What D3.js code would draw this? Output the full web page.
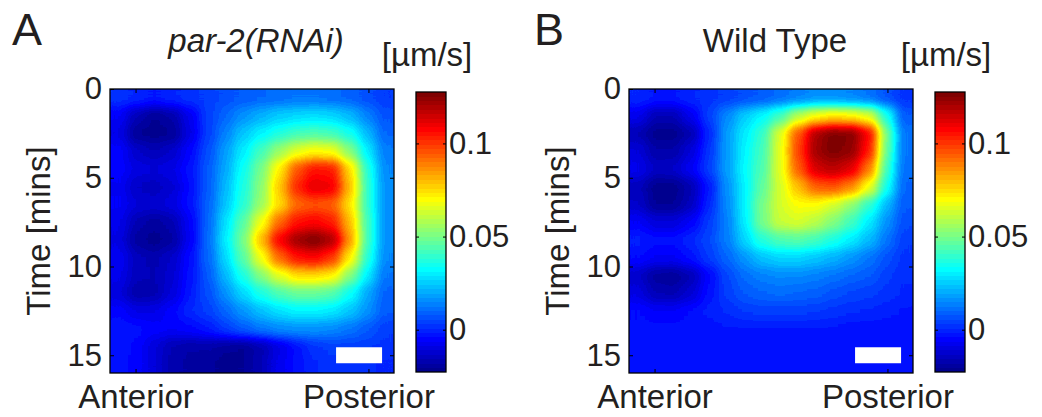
<!DOCTYPE html>
<html>
<head>
<meta charset="utf-8">
<script src="https://cdn.jsdelivr.net/npm/d3@7"></script>
<style>
  body { margin: 0; background: #fff; }
  svg { display: block; font-family: "Liberation Sans", Arial, Helvetica, sans-serif; }
</style>
</head>
<body>
<svg id="chart" width="1042" height="417"></svg>
<script>
// flow speed maps [um/s], one row per minute (0 -> 16), 16 columns anterior -> posterior
var par2 = [
  [ 0.002, 0.000,-0.002, 0.000, 0.002, 0.004, 0.006, 0.008, 0.010, 0.011, 0.012, 0.012, 0.011, 0.009, 0.006, 0.003],
  [-0.006,-0.016,-0.021,-0.018,-0.008, 0.004, 0.010, 0.016, 0.021, 0.025, 0.027, 0.028, 0.027, 0.022, 0.014, 0.007],
  [-0.009,-0.021,-0.022,-0.021,-0.010, 0.004, 0.014, 0.024, 0.031, 0.037, 0.042, 0.044, 0.042, 0.035, 0.022, 0.010],
  [-0.005,-0.013,-0.016,-0.013,-0.005, 0.006, 0.018, 0.030, 0.042, 0.055, 0.066, 0.070, 0.068, 0.052, 0.030, 0.013],
  [-0.005,-0.010,-0.011,-0.009,-0.003, 0.008, 0.020, 0.034, 0.050, 0.072, 0.095, 0.105, 0.104, 0.075, 0.038, 0.015],
  [-0.007,-0.014,-0.015,-0.012,-0.004, 0.008, 0.022, 0.036, 0.053, 0.078, 0.102, 0.112, 0.110, 0.080, 0.040, 0.016],
  [-0.006,-0.011,-0.012,-0.010,-0.003, 0.009, 0.024, 0.038, 0.055, 0.075, 0.092, 0.096, 0.094, 0.074, 0.040, 0.016],
  [-0.008,-0.017,-0.020,-0.017,-0.006, 0.010, 0.028, 0.045, 0.068, 0.092, 0.105, 0.108, 0.104, 0.080, 0.042, 0.016],
  [-0.010,-0.020,-0.022,-0.019,-0.007, 0.011, 0.030, 0.050, 0.080, 0.108, 0.122, 0.127, 0.120, 0.085, 0.042, 0.016],
  [-0.007,-0.015,-0.017,-0.013,-0.004, 0.010, 0.027, 0.045, 0.068, 0.092, 0.105, 0.108, 0.100, 0.072, 0.038, 0.015],
  [-0.008,-0.015,-0.016,-0.012,-0.003, 0.008, 0.022, 0.036, 0.052, 0.066, 0.075, 0.076, 0.072, 0.052, 0.030, 0.012],
  [-0.011,-0.018,-0.017,-0.011,-0.002, 0.006, 0.016, 0.027, 0.036, 0.044, 0.048, 0.048, 0.045, 0.034, 0.020, 0.009],
  [-0.005,-0.009,-0.009,-0.005, 0.000, 0.004, 0.010, 0.017, 0.023, 0.028, 0.031, 0.031, 0.029, 0.024, 0.016, 0.008],
  [-0.002,-0.003,-0.005,-0.006,-0.005,-0.002, 0.003, 0.008, 0.012, 0.015, 0.016, 0.016, 0.015, 0.012, 0.008, 0.004],
  [-0.002,-0.005,-0.011,-0.016,-0.018,-0.018,-0.020,-0.021,-0.017,-0.010,-0.003, 0.002, 0.004, 0.004, 0.003, 0.002],
  [-0.003,-0.005,-0.011,-0.017,-0.019,-0.020,-0.022,-0.021,-0.016,-0.008,-0.003, 0.000, 0.002, 0.002, 0.001, 0.000]
];
var wildType = [
  [ 0.000,-0.002,-0.002, 0.000, 0.002, 0.004, 0.006, 0.008, 0.011, 0.014, 0.016, 0.016, 0.015, 0.012, 0.007, 0.002],
  [-0.008,-0.016,-0.016,-0.008, 0.004, 0.015, 0.025, 0.032, 0.042, 0.060, 0.070, 0.074, 0.072, 0.066, 0.036, 0.008],
  [-0.016,-0.022,-0.022,-0.017, 0.000, 0.018, 0.030, 0.040, 0.065, 0.095, 0.120, 0.127, 0.126, 0.108, 0.050, 0.012],
  [-0.011,-0.018,-0.018,-0.011, 0.002, 0.018, 0.031, 0.042, 0.066, 0.098, 0.122, 0.127, 0.124, 0.104, 0.048, 0.012],
  [-0.008,-0.014,-0.013,-0.007, 0.004, 0.018, 0.032, 0.044, 0.066, 0.094, 0.114, 0.118, 0.112, 0.090, 0.042, 0.011],
  [-0.015,-0.022,-0.022,-0.017,-0.002, 0.016, 0.031, 0.046, 0.064, 0.080, 0.094, 0.096, 0.088, 0.068, 0.035, 0.010],
  [-0.013,-0.021,-0.021,-0.015, 0.000, 0.015, 0.031, 0.050, 0.064, 0.070, 0.070, 0.064, 0.054, 0.040, 0.022, 0.008],
  [-0.006,-0.011,-0.011,-0.006, 0.003, 0.014, 0.030, 0.050, 0.062, 0.064, 0.060, 0.052, 0.042, 0.030, 0.016, 0.006],
  [-0.001,-0.003,-0.003, 0.000, 0.005, 0.013, 0.026, 0.038, 0.044, 0.045, 0.042, 0.036, 0.030, 0.022, 0.012, 0.004],
  [-0.004,-0.007,-0.007,-0.003, 0.003, 0.010, 0.017, 0.023, 0.026, 0.026, 0.024, 0.021, 0.017, 0.012, 0.007, 0.002],
  [-0.013,-0.020,-0.021,-0.016,-0.005, 0.005, 0.011, 0.014, 0.015, 0.015, 0.014, 0.012, 0.010, 0.008, 0.004, 0.001],
  [-0.010,-0.016,-0.017,-0.012,-0.003, 0.004, 0.008, 0.010, 0.011, 0.010, 0.009, 0.007, 0.005, 0.004, 0.002, 0.000],
  [-0.004,-0.006,-0.006,-0.004,-0.001, 0.001, 0.003, 0.004, 0.004, 0.004, 0.003, 0.002, 0.001, 0.000,-0.001,-0.002],
  [-0.003,-0.003,-0.003,-0.003,-0.003,-0.002,-0.002,-0.002,-0.002,-0.002,-0.002,-0.002,-0.003,-0.003,-0.003,-0.003],
  [-0.003,-0.003,-0.003,-0.003,-0.003,-0.003,-0.003,-0.003,-0.003,-0.003,-0.003,-0.003,-0.003,-0.003,-0.003,-0.003],
  [-0.003,-0.003,-0.003,-0.003,-0.003,-0.003,-0.003,-0.003,-0.003,-0.003,-0.003,-0.003,-0.003,-0.003,-0.003,-0.003]
];
var panelLetters = ["A", "B"];
var panelTitles = ["par-2(RNAi)", "Wild Type"];
var timeTicks = [0, 5, 10, 15];
var timeRange = [0, 16];
var apTicks = [0.09, 0.91];
var apLabels = ["Anterior", "Posterior"];
var speedTicks = [0, 0.05, 0.1];
var speedRange = [-0.0227, 0.1276];
var scaleBarAP = [0.796, 0.958];
var scaleBarTime = [14.55, 15.45];

var ink = "#231f20";

// matlab style jet(m)
function jet(m) {
  var n = Math.ceil(m / 4), u = [], i;
  for (i = 1; i <= n; i++) u.push(i / n);
  for (i = 1; i < n; i++) u.push(1);
  for (i = n; i >= 1; i--) u.push(i / n);
  var g0 = Math.ceil(n / 2) - (m % 4 == 1 ? 1 : 0);
  var r = [], g = [], b = [];
  for (i = 0; i < m; i++) { r.push(0); g.push(0); b.push(0); }
  u.forEach(function(v, j) {
    var gi = g0 + j + 1;
    if (gi >= 1 && gi <= m) g[gi - 1] = v;
    if (gi + n >= 1 && gi + n <= m) r[gi + n - 1] = v;
    if (gi - n >= 1 && gi - n <= m) b[gi - n - 1] = v;
  });
  return d3.range(m).map(function(k) { return [r[k], g[k], b[k]]; });
}
var cmap = jet(64);

var svg = d3.select("#chart");
var defs = svg.append("defs");

// values are painted as grey levels, smoothed, then mapped through jet(64)
var filt = defs.append("filter").attr("id", "jetSmooth")
    .attr("color-interpolation-filters", "sRGB")
    .attr("x", "-5%").attr("y", "-5%").attr("width", "110%").attr("height", "110%");
filt.append("feGaussianBlur").attr("stdDeviation", 5.5);
var ct = filt.append("feComponentTransfer");
ct.append("feFuncR").attr("type", "discrete").attr("tableValues", cmap.map(function(c) { return c[0]; }).join(" "));
ct.append("feFuncG").attr("type", "discrete").attr("tableValues", cmap.map(function(c) { return c[1]; }).join(" "));
ct.append("feFuncB").attr("type", "discrete").attr("tableValues", cmap.map(function(c) { return c[2]; }).join(" "));
ct.append("feFuncA").attr("type", "discrete").attr("tableValues", "1");

var grey = d3.scaleLinear().domain(speedRange).range([0, 255]).clamp(true);
function greyFill(v) { var c = Math.round(grey(v)); return d3.rgb(c, c, c); }

function styleAxis(sel, size) {
  sel.attr("font-family", null).attr("font-size", size).attr("color", ink);
  sel.select(".domain").remove();
  sel.selectAll("line").attr("stroke", "#000");
}

function panel(ox, rows, k) {
  var x = d3.scaleLinear().domain([0, 1]).range([ox + 110, ox + 394]);
  var y = d3.scaleLinear().domain(timeRange).range([89, 373]);
  var col = d3.scaleBand().domain(d3.range(rows[0].length)).range(x.range());

  var clipId = "clip" + k;
  defs.append("clipPath").attr("id", clipId).append("rect")
      .attr("x", x(0)).attr("y", y(timeRange[0]))
      .attr("width", x(1) - x(0)).attr("height", y(timeRange[1]) - y(timeRange[0]));

  var heat = svg.append("g").attr("clip-path", "url(#" + clipId + ")")
    .append("g").attr("filter", "url(#jetSmooth)");

  heat.selectAll("g")
    .data(rows)
    .enter().append("g")
    .each(function(row, j) {
      d3.select(this).selectAll("rect")
        .data(row)
        .enter().append("rect")
          .attr("x", function(d, i) { return col(i); })
          .attr("y", y(j))
          .attr("width", col.bandwidth() + 0.6)
          .attr("height", y(j + 1) - y(j) + 0.6)
          .attr("shape-rendering", "crispEdges")
          .attr("fill", greyFill);
    });

  // scale bar
  svg.append("rect")
      .attr("x", x(scaleBarAP[0])).attr("y", y(scaleBarTime[0]))
      .attr("width", x(scaleBarAP[1]) - x(scaleBarAP[0]))
      .attr("height", y(scaleBarTime[1]) - y(scaleBarTime[0]))
      .attr("fill", "#fff");

  // axes box + ticks
  svg.append("g").attr("transform", "translate(" + x(0) + ",0)")
      .call(d3.axisLeft(y).tickValues(timeTicks).tickSizeInner(-4).tickSizeOuter(0).tickPadding(8))
      .call(styleAxis, 31);
  svg.append("g").attr("transform", "translate(" + x(1) + ",0)")
      .call(d3.axisRight(y).tickValues(timeTicks.slice(1)).tickSizeInner(-4).tickSizeOuter(0).tickFormat(""))
      .call(styleAxis, 31);
  svg.append("g").attr("transform", "translate(0," + y(timeRange[0]) + ")")
      .call(d3.axisTop(x).tickValues(apTicks).tickSizeInner(-4).tickSizeOuter(0).tickFormat(""))
      .call(styleAxis, 31);
  svg.append("g").attr("transform", "translate(0," + y(timeRange[1]) + ")")
      .call(d3.axisBottom(x).tickValues(apTicks).tickSizeInner(-4).tickSizeOuter(0).tickPadding(12)
        .tickFormat(function(d, i) { return apLabels[i]; }))
      .call(styleAxis, 33);

  svg.append("rect")
      .attr("x", x(0)).attr("y", y(timeRange[0]))
      .attr("width", x(1) - x(0)).attr("height", y(timeRange[1]) - y(timeRange[0]))
      .attr("fill", "none").attr("stroke", "#000").attr("stroke-width", 1.3);

  svg.append("text")
      .attr("transform", "translate(" + (ox + 50) + "," + ((y(0) + y(16)) / 2) + ") rotate(-90)")
      .attr("text-anchor", "middle")
      .attr("font-size", 33)
      .attr("fill", ink)
      .text("Time [mins]");

  svg.append("text")
      .attr("x", (x(0) + x(1)) / 2 + 4).attr("y", 52)
      .attr("text-anchor", "middle")
      .attr("font-size", 33)
      .attr("font-style", k == 0 ? "italic" : null)
      .attr("fill", ink)
      .text(panelTitles[k]);

  svg.append("text")
      .attr("x", ox + 12 + 3 * k).attr("y", 45)
      .attr("font-size", 45)
      .attr("fill", ink)
      .text(panelLetters[k]);

  // colour bar
  var cb = d3.scaleLinear().domain(speedRange).range([372, 92]);
  var step = (speedRange[1] - speedRange[0]) / cmap.length;
  var cbx = ox + 416, cbw = 30;
  svg.append("g").selectAll("rect")
    .data(cmap)
    .enter().append("rect")
      .attr("x", cbx)
      .attr("y", function(d, i) { return cb(speedRange[0] + (i + 1) * step); })
      .attr("width", cbw)
      .attr("height", function(d, i) { return cb(speedRange[0] + i * step) - cb(speedRange[0] + (i + 1) * step) + 0.3; })
      .attr("shape-rendering", "crispEdges")
      .attr("fill", function(d) { return d3.rgb(d[0] * 255, d[1] * 255, d[2] * 255); });

  svg.append("g").attr("transform", "translate(" + (cbx + cbw) + ",0)")
      .call(d3.axisRight(cb).tickValues(speedTicks).tickSizeInner(-3).tickSizeOuter(0).tickPadding(3)
        .tickFormat(d3.format("")))
      .call(styleAxis, 31);
  svg.append("g").attr("transform", "translate(" + cbx + ",0)")
      .call(d3.axisLeft(cb).tickValues(speedTicks).tickSizeInner(-3).tickSizeOuter(0).tickFormat(""))
      .call(styleAxis, 31);
  svg.append("rect")
      .attr("x", cbx).attr("y", cb.range()[1])
      .attr("width", cbw).attr("height", cb.range()[0] - cb.range()[1])
      .attr("fill", "none").attr("stroke", "#000").attr("stroke-width", 1.3);

  svg.append("text")
      .attr("x", cbx + 11).attr("y", 66)
      .attr("text-anchor", "middle")
      .attr("font-size", 33)
      .attr("fill", ink)
      .text("[\u00b5m/s]");
}

panel(0, par2, 0);
panel(519, wildType, 1);
</script>
</body>
</html>
